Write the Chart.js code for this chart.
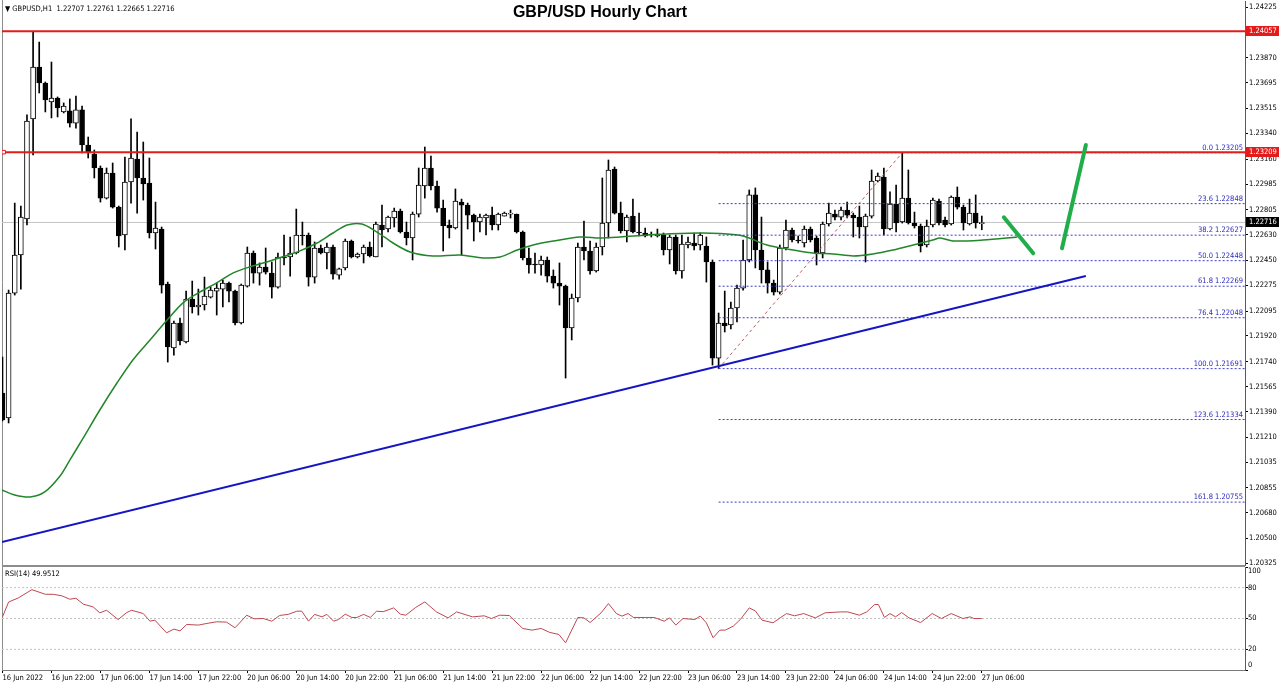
<!DOCTYPE html>
<html>
<head>
<meta charset="utf-8">
<script src="https://cdn.jsdelivr.net/npm/chart.js@4.4.0/dist/chart.umd.min.js"></script>
<style>
  body { margin: 0; background: #fff; width: 1280px; height: 686px; overflow: hidden; position: relative; }
  canvas { position: absolute; left: 0; }
  #main { top: 0; }
  #rsi { top: 566px; }
  .txt { position: absolute; font: 7.5px 'DejaVu Sans Condensed', 'DejaVu Sans', sans-serif; color: #000; white-space: pre; }
  #title { position: absolute; left: 0; top: 3px; width: 1200px; text-align: center; font: bold 16px 'Liberation Sans', Arial, sans-serif; color: #000; }
</style>
</head>
<body>
<canvas id="main" width="1280" height="566"></canvas>
<canvas id="rsi" width="1280" height="120"></canvas>
<div class="txt" style="left:5px;top:4px">▼ GBPUSD,H1  1.22707 1.22761 1.22665 1.22716</div>
<div id="title">GBP/USD Hourly Chart</div>
<div class="txt" style="left:5px;top:569px">RSI(14) 49.9512</div>
<script>
// GBP/USD H1 candles, bar 0 = 16 Jun 14:00, bar 160 = 27 Jun 06:00
const opens = [1.21520,1.21345,1.22221,1.22488,1.22740,1.23442,1.23806,1.23694,1.23561,1.23589,
  1.23491,1.23498,1.23413,1.23505,1.23259,1.23196,1.23098,1.22887,1.23063,1.22824,
  1.22628,1.23000,1.23161,1.23028,1.22993,1.22642,1.22670,1.22284,1.21836,1.22011,
  1.21878,1.22179,1.22123,1.22137,1.22193,1.22235,1.22249,1.22291,1.22235,1.22011,
  1.22270,1.22502,1.22361,1.22404,1.22361,1.22263,1.22474,1.22474,1.22502,1.22628,
  1.22628,1.22333,1.22537,1.22502,1.22544,1.22347,1.22397,1.22586,1.22474,1.22495,
  1.22544,1.22474,1.22698,1.22670,1.22747,1.22796,1.22649,1.22607,1.22775,1.22972,
  1.23098,1.22972,1.22817,1.22698,1.22677,1.22859,1.22838,1.22768,1.22719,1.22747,
  1.22768,1.22698,1.22761,1.22775,1.22775,1.22649,1.22467,1.22425,1.22418,1.22453,
  1.22340,1.22291,1.22270,1.21976,1.22186,1.22544,1.22516,1.22376,1.22544,1.22712,
  1.23091,1.22782,1.22656,1.22761,1.22649,1.22642,1.22635,1.22621,1.22628,1.22523,
  1.22614,1.22376,1.22558,1.22572,1.22558,1.22551,1.22439,1.21765,1.22011,1.21997,
  1.22116,1.22256,1.22453,1.22909,1.22523,1.22383,1.22291,1.22228,1.22537,1.22663,
  1.22593,1.22572,1.22670,1.22607,1.22502,1.22705,1.22775,1.22754,1.22803,1.22768,
  1.22754,1.22684,1.22761,1.23007,1.23035,1.22670,1.22845,1.22719,1.22887,1.22712,
  1.22691,1.22558,1.22698,1.22866,1.22733,1.22705,1.22894,1.22824,1.22705,1.22782,
  1.22707];
const highs = [1.21772,1.22242,1.22852,1.22831,1.23470,1.24057,1.23981,1.23701,1.23841,1.23596,
  1.23554,1.23582,1.23603,1.23533,1.23315,1.23224,1.23112,1.23098,1.23133,1.22831,
  1.23175,1.23442,1.23350,1.23280,1.23168,1.22859,1.22684,1.22298,1.22025,1.22046,
  1.22235,1.22305,1.22249,1.22333,1.22263,1.22291,1.22312,1.22298,1.22242,1.22284,
  1.22544,1.22516,1.22432,1.22537,1.22439,1.22502,1.22628,1.22614,1.22810,1.22719,
  1.22642,1.22579,1.22558,1.22572,1.22558,1.22397,1.22600,1.22593,1.22502,1.22558,
  1.22579,1.22719,1.22838,1.22761,1.22817,1.22810,1.22719,1.22789,1.23098,1.23245,
  1.23182,1.23007,1.22873,1.22733,1.22951,1.22880,1.22852,1.22775,1.22775,1.22775,
  1.22824,1.22782,1.22789,1.22803,1.22775,1.22656,1.22537,1.22502,1.22481,1.22474,
  1.22383,1.22432,1.22277,1.22214,1.22572,1.22726,1.22586,1.22572,1.23028,1.23154,
  1.23105,1.22859,1.22768,1.22880,1.22782,1.22677,1.22649,1.22670,1.22642,1.22628,
  1.22628,1.22628,1.22614,1.22642,1.22642,1.22614,1.22453,1.22081,1.22235,1.22158,
  1.22277,1.22593,1.22944,1.22958,1.22754,1.22439,1.22312,1.22558,1.22733,1.22677,
  1.22621,1.22691,1.22684,1.22621,1.22719,1.22852,1.22803,1.22824,1.22859,1.22782,
  1.22831,1.22775,1.23084,1.23063,1.23098,1.22930,1.22979,1.23205,1.23084,1.22789,
  1.22705,1.22733,1.22887,1.22880,1.22754,1.22902,1.22965,1.22838,1.22880,1.22909,
  1.22761];
const lows = [1.21324,1.21310,1.22207,1.22249,1.22698,1.23189,1.23624,1.23491,1.23449,1.23456,
  1.23484,1.23385,1.23378,1.23203,1.23168,1.23028,1.22859,1.22880,1.22817,1.22544,
  1.22523,1.22852,1.22782,1.22873,1.22607,1.22530,1.22221,1.21737,1.21786,1.21857,
  1.21871,1.22081,1.22067,1.22102,1.22186,1.22067,1.22123,1.22158,1.21997,1.22004,
  1.22263,1.22291,1.22277,1.22354,1.22186,1.22256,1.22418,1.22340,1.22495,1.22558,
  1.22270,1.22291,1.22495,1.22390,1.22319,1.22319,1.22383,1.22467,1.22467,1.22432,
  1.22474,1.22474,1.22544,1.22649,1.22684,1.22642,1.22558,1.22453,1.22754,1.22887,
  1.22944,1.22789,1.22516,1.22607,1.22670,1.22488,1.22670,1.22586,1.22649,1.22628,
  1.22663,1.22663,1.22761,1.22747,1.22642,1.22453,1.22361,1.22361,1.22347,1.22298,
  1.22256,1.22137,1.21625,1.21892,1.22158,1.22453,1.22354,1.22368,1.22488,1.22607,
  1.22775,1.22642,1.22579,1.22642,1.22621,1.22614,1.22614,1.22614,1.22488,1.22425,
  1.22354,1.22326,1.22537,1.22523,1.22523,1.22298,1.21716,1.21691,1.21948,1.21969,
  1.22018,1.22242,1.22439,1.22397,1.22291,1.22221,1.22207,1.22214,1.22523,1.22579,
  1.22572,1.22544,1.22579,1.22418,1.22467,1.22691,1.22733,1.22733,1.22747,1.22614,
  1.22607,1.22439,1.22747,1.23000,1.22628,1.22663,1.22649,1.22712,1.22705,1.22677,
  1.22509,1.22544,1.22684,1.22698,1.22684,1.22698,1.22810,1.22663,1.22698,1.22677,
  1.22665];
const closes = [1.21331,1.22221,1.22488,1.22754,1.23427,1.23806,1.23694,1.23575,1.23589,1.23519,
  1.23533,1.23413,1.23505,1.23259,1.23203,1.23098,1.22887,1.23063,1.22824,1.22621,
  1.23000,1.23168,1.23028,1.22986,1.22642,1.22677,1.22277,1.21843,1.22011,1.21885,
  1.22179,1.22123,1.22137,1.22200,1.22242,1.22256,1.22291,1.22235,1.22011,1.22277,
  1.22502,1.22361,1.22404,1.22368,1.22263,1.22474,1.22467,1.22502,1.22628,1.22621,
  1.22333,1.22537,1.22502,1.22544,1.22354,1.22390,1.22586,1.22474,1.22495,1.22544,
  1.22481,1.22705,1.22663,1.22754,1.22796,1.22649,1.22607,1.22775,1.22979,1.23098,
  1.22972,1.22817,1.22691,1.22677,1.22866,1.22838,1.22768,1.22719,1.22754,1.22768,
  1.22698,1.22775,1.22782,1.22775,1.22649,1.22467,1.22418,1.22418,1.22453,1.22340,
  1.22291,1.22270,1.21976,1.22186,1.22544,1.22516,1.22376,1.22544,1.22712,1.23084,
  1.22782,1.22656,1.22754,1.22649,1.22642,1.22621,1.22628,1.22635,1.22523,1.22614,
  1.22376,1.22565,1.22579,1.22551,1.22628,1.22439,1.21765,1.22011,1.21990,1.22116,
  1.22256,1.22453,1.22909,1.22523,1.22383,1.22291,1.22228,1.22537,1.22663,1.22593,
  1.22586,1.22670,1.22593,1.22502,1.22705,1.22782,1.22754,1.22803,1.22768,1.22747,
  1.22684,1.22761,1.23007,1.23042,1.22670,1.22845,1.22712,1.22887,1.22712,1.22691,
  1.22551,1.22691,1.22873,1.22712,1.22698,1.22894,1.22824,1.22712,1.22782,1.22712,
  1.22716];

// time axis labels (every 8 bars)
const tickBars = [0,8,16,24,32,40,48,56,64,72,80,88,96,104,112,120,128,136,144,152,160];
const tickLabels = ['16 Jun 2022','16 Jun 22:00','17 Jun 06:00','17 Jun 14:00','17 Jun 22:00',
  '20 Jun 06:00','20 Jun 14:00','20 Jun 22:00','21 Jun 06:00','21 Jun 14:00','21 Jun 22:00',
  '22 Jun 06:00','22 Jun 14:00','22 Jun 22:00','23 Jun 06:00','23 Jun 14:00','23 Jun 22:00',
  '24 Jun 06:00','24 Jun 14:00','24 Jun 22:00','27 Jun 06:00'];
const priceTicks = [1.24225,1.23870,1.23695,1.23515,1.23340,1.23160,1.22985,1.22805,1.22630,1.22450,
  1.22275,1.22095,1.21920,1.21740,1.21565,1.21390,1.21210,1.21035,1.20855,1.20680,1.20500,1.20325];

// moving average (shifted past the last bar)
const maBars = [-0.1,2,4.5,6.9,9.4,11,13.2,15.9,18.7,21.3,24.1,26.9,29.5,32.3,35,37.7,40.4,43.2,45.8,48.6,
  51.4,54,56.3,58.7,61.2,63.8,66.6,70.3,74.8,78.5,81.3,84.1,86.7,90,94.4,97.6,100.9,105.3,108.6,114,
  117.2,121,124.9,128.2,132.4,135.7,139,142.2,145.5,148.8,152,153.2,155.3,160.2,165.8];
const maVals = [1.2084,1.20805,1.20791,1.20826,1.20938,1.2105,1.21205,1.21401,1.2159,1.21752,
  1.21892,1.22032,1.22152,1.22229,1.22292,1.22362,1.22404,1.22439,1.22475,1.22517,
  1.22572,1.22642,1.22698,1.22705,1.22649,1.22572,1.22509,1.22481,1.22488,1.22467,
  1.22474,1.22523,1.22558,1.22586,1.22614,1.22607,1.22614,1.22628,1.22635,1.22642,
  1.22638,1.22621,1.22558,1.2253,1.22502,1.22495,1.22481,1.22495,1.22523,1.22558,
  1.22593,1.22607,1.22586,1.22593,1.22614];

// RSI(14)
const rsiBars = [0,1,2.6,4.8,7,8.3,9.7,11,12,13.2,14.8,15.9,17,18.9,20.3,21.1,23,24.1,24.9,26.8,
  28,29,30.1,32,33.4,35,36.6,38,39.9,41.1,42.6,44,45.3,46.7,48.1,48.9,50,51,52.2,53,
  54.1,54.9,56,57.1,57.9,59,60.1,61.1,62.2,63.9,65,65.9,67.5,69,70.9,72.8,74.2,76.8,78.7,79.9,
  81.2,82.8,85,86.5,88,89.4,90.9,92,94,95,96,97.8,99,100.3,101.2,102.2,103.1,105,106.5,108.1,
  109,110,111.2,113.1,114,115,116.1,117.2,118.1,119.4,120.6,122,123,124.1,125.9,126.9,128.1,129.4,130.9,132.8,
  134.4,136.9,138.1,140,141.2,142.5,143.1,144.1,145,145.9,146.9,148.1,150,151.9,153.4,155,156.9,158.1,158.7,160];
const rsiVals = [51.6,66,70,78,73.5,73.5,72,68.7,69.7,63.9,61.3,55.5,58,49,55.8,58,54.8,47.4,48.4,36.1,
  39.7,38,44.2,43.6,45.2,46.8,46.5,41,53.2,49.7,50,47.4,53,54,57.1,57.1,47.4,54,51.6,54,
  47.4,49,54.2,51,51,54,51,57.1,56.6,60.3,54.2,53.2,60.7,66.1,56.4,50.6,56.4,51.6,52.6,50,
  53.2,52.9,40.3,38.7,40.3,36.5,34.5,26.4,51,50.6,46.1,55.5,64.5,54.8,52.3,54.8,51,51,51,47.4,
  50.6,43.6,50,49,52.3,45.8,31.3,38.7,38.7,42.6,49.4,60.3,57.4,48.4,45.8,50,54.8,52.6,54.8,50.6,
  55.5,56.4,56.4,53.2,56.4,63.6,63.6,51,54.8,51.6,55.8,50.6,46.1,54.8,50,54.8,50,51.6,50,49.95];
const rsiLevels = [80, 50, 20];
const rsiTicks = [100, 80, 50, 20, 0];

// Fibonacci retracement from the 23 Jun low (bar 117) to the 24 Jun high (bar 147)
const fibPcts = ['0.0','23.6','38.2','50.0','61.8','76.4','100.0','123.6','161.8'];
const fibPrices = [1.23205,1.22848,1.22627,1.22448,1.22269,1.22048,1.21691,1.21334,1.20755];
const fibLowBar = 117;
const fibHighBar = 147;

// drawn objects
const resistanceLevels = [1.24057, 1.23209];
const trendBars = [-0.1, 177];
const trendVals = [1.20475, 1.22341];
const arrowDownBars = [163.6, 168.4];
const arrowDownVals = [1.22752, 1.22500];
const arrowUpBars = [173.1, 177.0];
const arrowUpVals = [1.22535, 1.23259];

const X_MIN = -0.08;
const X_MAX = 203.0;
const FONT_FAMILY = "'DejaVu Sans Condensed', 'DejaVu Sans', sans-serif";
const AXIS_FONT = { family: FONT_FAMILY, size: 7.5 };
const lastClose = closes[closes.length - 1];

const bars = opens.map((_, i) => i);
const seg = (xs, ys) => xs.map((x, i) => ({ x: x, y: ys[i] }));
const flatLine = (from, to, v) => [{ x: from, y: v }, { x: to, y: v }];
const lineSet = (data, color, width, dash, order) => ({
  type: 'line', data: data, borderColor: color, borderWidth: width, borderDash: dash || [],
  pointRadius: 0, pointHoverRadius: 0, fill: false, order: order
});

// left edge of each panel
const framePlugin = {
  id: 'frame',
  beforeDatasetsDraw(chart) {
    const { ctx, chartArea } = chart;
    ctx.save();
    ctx.strokeStyle = '#8c8c8c';
    ctx.lineWidth = 1;
    ctx.beginPath();
    ctx.moveTo(chartArea.left + 0.5, 0);
    ctx.lineTo(chartArea.left + 0.5, chartArea.bottom);
    ctx.stroke();
    ctx.restore();
  }
};

// fib labels and price boxes on the right axis
const overlayPlugin = {
  id: 'overlay',
  afterDraw(chart) {
    const { ctx, chartArea, scales: { y } } = chart;
    ctx.save();
    ctx.font = `7.5px ${FONT_FAMILY}`;
    ctx.fillStyle = '#2a2ac0';
    ctx.textAlign = 'right';
    ctx.textBaseline = 'bottom';
    fibPrices.forEach((p, i) => {
      ctx.fillText(`${fibPcts[i]} ${p.toFixed(5)}`, chartArea.right - 2, y.getPixelForValue(p) - 1);
    });
    const boxes = resistanceLevels.map(v => ({ v: v, bg: '#e31b1b' }))
      .concat([{ v: lastClose, bg: '#000' }]);
    ctx.textAlign = 'left';
    ctx.textBaseline = 'middle';
    boxes.forEach(b => {
      const py = Math.round(y.getPixelForValue(b.v));
      ctx.fillStyle = b.bg;
      ctx.fillRect(chartArea.right + 1, py - 5, 33, 10);
      ctx.fillStyle = '#fff';
      ctx.fillText(b.v.toFixed(5), chartArea.right + 4, py);
    });
    // panel separator
    ctx.fillStyle = '#8c8c8c';
    ctx.fillRect(chartArea.left, chartArea.bottom, chartArea.right - chartArea.left, 1);
    ctx.restore();
  }
};

const mainChart = new Chart(document.getElementById('main'), {
  type: 'bar',
  data: {
    datasets: [
      lineSet(flatLine(X_MIN, X_MAX, lastClose), '#c4c4c4', 1, null, 9),
      {
        type: 'bar', data: bars.map(i => ({ x: i, y: [lows[i], highs[i]] })),
        backgroundColor: '#000', barThickness: 1, grouped: false, order: 8
      },
      {
        type: 'bar', data: bars.map(i => ({ x: i, y: [opens[i], closes[i]] })),
        backgroundColor: bars.map(i => closes[i] >= opens[i] ? '#fff' : '#000'),
        borderColor: '#000', borderWidth: 1, borderSkipped: false, minBarLength: 1,
        barThickness: 5, grouped: false, order: 7
      },
      Object.assign(lineSet(seg(maBars, maVals), '#23862a', 1.5, null, 5), { tension: 0.3 }),
      ...fibPrices.map(p => lineSet(flatLine(fibLowBar, X_MAX, p), '#3c3cc8', 1, [2, 2], 4)),
      lineSet([{ x: fibLowBar, y: fibPrices[6] }, { x: fibHighBar, y: fibPrices[0] }], '#b85a5a', 1, [3, 3], 4),
      ...resistanceLevels.map(v => lineSet(flatLine(X_MIN, X_MAX, v), '#e31b1b', 2, null, 3)),
      lineSet(seg(trendBars, trendVals), '#1515c4', 2, null, 2),
      Object.assign(lineSet(seg(arrowDownBars, arrowDownVals), '#22ad4b', 4, null, 1), { borderCapStyle: 'round' }),
      Object.assign(lineSet(seg(arrowUpBars, arrowUpVals), '#22ad4b', 4, null, 1), { borderCapStyle: 'round' }),
      {
        type: 'scatter', data: [{ x: 0.2, y: resistanceLevels[1] }], pointStyle: 'rect',
        pointRadius: 2.5, pointHoverRadius: 2.5, borderColor: '#e31b1b', backgroundColor: '#fff',
        borderWidth: 1, order: 0
      }
    ]
  },
  options: {
    responsive: false,
    animation: false,
    events: [],
    layout: { autoPadding: false, padding: { left: 2, top: 1, right: 0, bottom: 1 } },
    plugins: { legend: { display: false }, tooltip: { enabled: false } },
    scales: {
      x: { type: 'linear', min: X_MIN, max: X_MAX, display: false, offset: false },
      y: {
        position: 'right', min: 1.20314, max: 1.24269,
        afterBuildTicks: s => { s.ticks = priceTicks.map(v => ({ value: v })); },
        afterFit: s => { s.width = 35; s.paddingTop = 0; s.paddingBottom = 0; },
        ticks: { font: AXIS_FONT, color: '#000', padding: 1, callback: v => v.toFixed(5) },
        grid: { drawOnChartArea: false, tickLength: 3, color: '#000' },
        border: { color: '#5a5a5a' }
      }
    }
  },
  plugins: [framePlugin, overlayPlugin]
});

// RSI panel labels (kept inside the panel like the terminal does)
const rsiLabelPlugin = {
  id: 'rsiLabels',
  afterDraw(chart) {
    const { ctx, chartArea, scales: { y } } = chart;
    ctx.save();
    ctx.font = `7.5px ${FONT_FAMILY}`;
    ctx.fillStyle = '#000';
    ctx.textAlign = 'left';
    ctx.textBaseline = 'middle';
    rsiTicks.forEach(v => {
      const py = Math.min(Math.max(y.getPixelForValue(v), chartArea.top + 4), chartArea.bottom - 5);
      ctx.fillText(String(v), chartArea.right + 3, py);
    });
    ctx.fillStyle = '#8c8c8c';
    ctx.fillRect(chartArea.left, 0, chartArea.right - chartArea.left, 1);
    ctx.restore();
  }
};

const rsiChart = new Chart(document.getElementById('rsi'), {
  type: 'line',
  data: {
    datasets: [
      lineSet(seg(rsiBars, rsiVals), '#bf4751', 1, null, 0),
      ...rsiLevels.map(v => lineSet(flatLine(X_MIN, X_MAX, v), '#c2c2c2', 1, [2, 2], 1))
    ]
  },
  options: {
    responsive: false,
    animation: false,
    events: [],
    layout: { autoPadding: false, padding: { left: 2, top: 1, right: 0, bottom: 0 } },
    plugins: { legend: { display: false }, tooltip: { enabled: false } },
    scales: {
      x: {
        type: 'linear', min: X_MIN, max: X_MAX,
        afterBuildTicks: s => { s.ticks = tickBars.map(v => ({ value: v })); },
        afterFit: s => { s.height = 16; s.paddingLeft = 0; s.paddingRight = 0; },
        ticks: {
          font: AXIS_FONT, color: '#000', padding: 1, align: 'start',
          maxRotation: 0, autoSkip: false,
          callback: v => tickLabels[tickBars.indexOf(v)] || ''
        },
        grid: { drawOnChartArea: false, tickLength: 3, color: '#000' },
        border: { color: '#7a7a7a' }
      },
      y: {
        position: 'right', min: 0, max: 100,
        afterBuildTicks: s => { s.ticks = rsiTicks.map(v => ({ value: v })); },
        afterFit: s => { s.width = 35; s.paddingTop = 0; s.paddingBottom = 0; },
        ticks: { display: false },
        grid: { drawOnChartArea: false, tickLength: 3, color: '#000' },
        border: { color: '#5a5a5a' }
      }
    }
  },
  plugins: [framePlugin, rsiLabelPlugin]
});
</script>
</body>
</html>
